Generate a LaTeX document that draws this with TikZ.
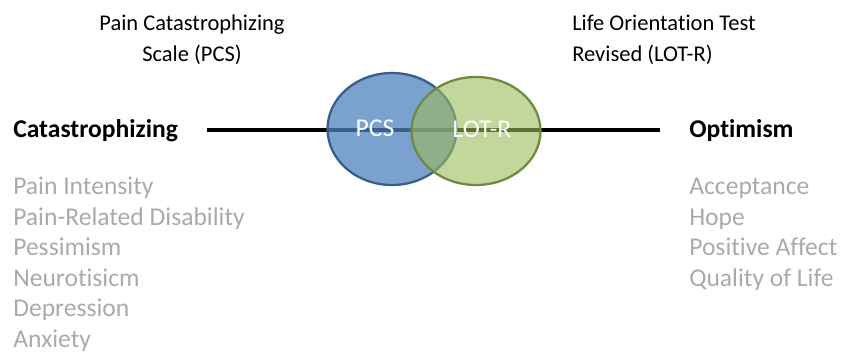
\documentclass[tikz,border=0pt]{standalone}
\usepackage{fontspec}
\setmainfont{Carlito}[Ligatures=NoCommon]
\usepackage{tikz}
\definecolor{pcsfill}{RGB}{79,129,189}
\definecolor{pcsline}{RGB}{56,93,138}
\definecolor{lotfill}{RGB}{155,187,89}
\definecolor{lotline}{RGB}{113,137,63}
\definecolor{lightgray}{RGB}{170,170,170}

\begin{document}
\begin{tikzpicture}[x=0.025cm, y=-0.025cm, every node/.style={inner sep=0pt, font=\fontsize{18.2}{22}\selectfont}]
\useasboundingbox (0,0) rectangle (844,354);

% Titles
\node[align=center, font=\fontsize{16}{22}\selectfont] (tl) at (192,40) {Pain Catastrophizing\\Scale (PCS)};
\node[align=left, anchor=west, font=\fontsize{16}{22}\selectfont] (tr) at (572,40) {Life Orientation Test\\Revised (LOT-R)};

% Ends
\node[anchor=base west, font=\fontsize{18.2}{22}\selectfont\bfseries] (cat) at (13,138) {Catastrophizing};
\node[anchor=base west, font=\fontsize{18.2}{22}\selectfont\bfseries] (opt) at (689,138) {Optimism};
\coordinate (l) at (207,130);
\coordinate (r) at (660,130);

%Lines
\draw[line width=3pt] (l) -- (r);

%Circles
\fill[pcsfill, fill opacity=0.75] (392,129) ellipse [x radius=64.5, y radius=56];
\draw[pcsline, line width=1.6pt] (392,129) ellipse [x radius=64.5, y radius=56];
\fill[lotfill, fill opacity=0.6] (476,131) ellipse [x radius=64.5, y radius=54];
\draw[lotline, line width=1.6pt] (476,131) ellipse [x radius=64.5, y radius=54];
\node[text=white, anchor=base] (pcs) at (375,137) {PCS};
\node[text=white, anchor=base] (lot) at (482,138) {LOT-R};

% Left list
\foreach \t [count=\i] in {Pain Intensity, Pain-Related Disability, Pessimism, Neurotisicm, Depression, Anxiety}
  \node[anchor=base west, text=lightgray] (l\i) at (13,164+30.6*\i) {\t};

% Right list
\foreach \t [count=\i] in {Acceptance, Hope, Positive Affect, Quality of Life}
  \node[anchor=base west, text=lightgray] (r\i) at (689,164+30.6*\i) {\t};
\end{tikzpicture}
\end{document}
